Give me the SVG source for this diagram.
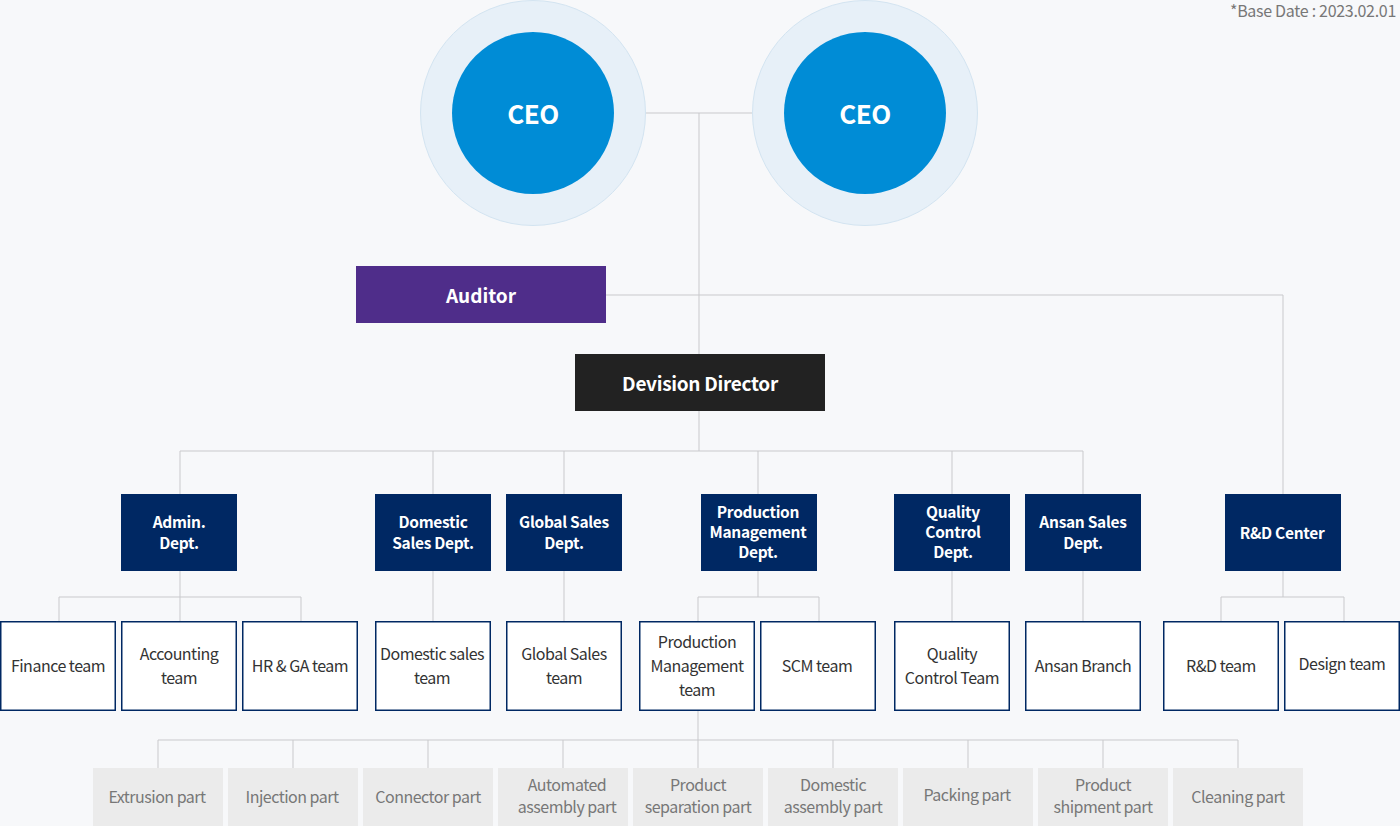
<svg xmlns="http://www.w3.org/2000/svg" width="1400" height="826" viewBox="0 0 1400 826">
<style>
text{font-family:"Noto Sans CJK KR","Noto Sans",sans-serif;text-anchor:middle;dominant-baseline:central}
.ln{stroke:#c9c9cc;stroke-width:1;fill:none}
.dept rect{fill:#002863}
.dept text{fill:#fff;font-size:15.5px;font-weight:bold;letter-spacing:-0.3px}
.team rect{fill:#fff;stroke:#002863;stroke-width:1.5}
.team text{fill:#333;font-size:16px;letter-spacing:-0.5px}
.part rect{fill:#ebebeb}
.part text{fill:#777;font-size:16px;letter-spacing:-0.5px}
.ceo text{fill:#fff;font-size:26px;font-weight:bold;letter-spacing:-0.5px}
</style>
<rect width="1400" height="826" fill="#f7f8fa"/>
<text x="1396" y="10" style="text-anchor:end;font-size:16px;fill:#777;letter-spacing:-0.3px">*Base Date : 2023.02.01</text>
<g id="connectors" class="ln">
<path d="M646 113H752M699 113V354"/>
<path d="M606 295H1283V494"/>
<path d="M699 411V451M180 451H1083M180 451V494M433 451V494M564 451V494M758 451V494M952 451V494M1083 451V494"/>
<path d="M180 571V597M59 597H301M59 597V621M180 597V621M301 597V621"/>
<path d="M433 571V621M564 571V621M952 571V621M1083 571V621"/>
<path d="M758 571V597M698 597H819M698 597V621M819 597V621"/>
<path d="M1283 571V597M1221 597H1344M1221 597V621M1344 597V621"/>
<path d="M698 710V740M158 740H1238M158 740V768M293 740V768M428 740V768M563 740V768M698 740V768M833 740V768M968 740V768M1103 740V768M1238 740V768"/>
</g>
<g id="ceo1" class="ceo"><circle cx="533" cy="113" r="112.5" fill="#e7f0f8" stroke="#d3e4f1"/><circle cx="533" cy="113" r="81" fill="#008cd6"/><text x="533" y="112">CEO</text></g>
<g id="ceo2" class="ceo"><circle cx="865" cy="113" r="112.5" fill="#e7f0f8" stroke="#d3e4f1"/><circle cx="865" cy="113" r="81" fill="#008cd6"/><text x="865" y="112">CEO</text></g>
<g id="auditor"><rect x="356" y="266" width="250" height="57" fill="#4f2d8a"/><text x="481" y="294" style="fill:#fff;font-size:19px;font-weight:bold">Auditor</text></g>
<g id="director"><rect x="575" y="354" width="250" height="57" fill="#222"/><text x="700" y="382" style="fill:#fff;font-size:19px;font-weight:bold;letter-spacing:-0.3px">Devision Director</text></g>
<g id="admin" class="dept"><rect x="121" y="494" width="116" height="77"/><text x="179" y="521">Admin.</text><text x="179" y="542">Dept.</text></g>
<g id="domestic" class="dept"><rect x="375" y="494" width="116" height="77"/><text x="433" y="521">Domestic</text><text x="433" y="542">Sales Dept.</text></g>
<g id="global" class="dept"><rect x="506" y="494" width="116" height="77"/><text x="564" y="521">Global Sales</text><text x="564" y="542">Dept.</text></g>
<g id="production" class="dept"><rect x="701" y="494" width="116" height="77"/><text x="758" y="511">Production</text><text x="758" y="531">Management</text><text x="758" y="551">Dept.</text></g>
<g id="quality" class="dept"><rect x="894" y="494" width="116" height="77"/><text x="953" y="511">Quality</text><text x="953" y="531">Control</text><text x="953" y="551">Dept.</text></g>
<g id="ansan" class="dept"><rect x="1025" y="494" width="116" height="77"/><text x="1083" y="521">Ansan Sales</text><text x="1083" y="542">Dept.</text></g>
<g id="rnd" class="dept"><rect x="1225" y="494" width="116" height="77"/><text x="1282" y="532">R&amp;D Center</text></g>
<g id="finance" class="team"><rect x="0.75" y="621.75" width="114.5" height="88.5"/><text x="58" y="665">Finance team</text></g>
<g id="accounting" class="team"><rect x="121.75" y="621.75" width="114.5" height="88.5"/><text x="179" y="653">Accounting</text><text x="179" y="677">team</text></g>
<g id="hrga" class="team"><rect x="242.75" y="621.75" width="114.5" height="88.5"/><text x="300" y="665">HR &amp; GA team</text></g>
<g id="domsales" class="team"><rect x="375.75" y="621.75" width="114.5" height="88.5"/><text x="432" y="653">Domestic sales</text><text x="432" y="677">team</text></g>
<g id="globalsales" class="team"><rect x="506.75" y="621.75" width="114.5" height="88.5"/><text x="564" y="653">Global Sales</text><text x="564" y="677">team</text></g>
<g id="prodmgmt" class="team"><rect x="639.75" y="621.75" width="114.5" height="88.5"/><text x="697" y="641">Production</text><text x="697" y="665">Management</text><text x="697" y="689">team</text></g>
<g id="scm" class="team"><rect x="760.75" y="621.75" width="114.5" height="88.5"/><text x="817" y="665">SCM team</text></g>
<g id="qcteam" class="team"><rect x="894.75" y="621.75" width="114.5" height="88.5"/><text x="952" y="653">Quality</text><text x="952" y="677">Control Team</text></g>
<g id="ansanbranch" class="team"><rect x="1025.75" y="621.75" width="114.5" height="88.5"/><text x="1083" y="665">Ansan Branch</text></g>
<g id="rndteam" class="team"><rect x="1163.75" y="621.75" width="114.5" height="88.5"/><text x="1221" y="665">R&amp;D team</text></g>
<g id="design" class="team"><rect x="1284.75" y="621.75" width="114.5" height="88.5"/><text x="1342" y="663">Design team</text></g>
<g id="extrusion" class="part"><rect x="93" y="768" width="130" height="60"/><text x="157" y="796">Extrusion part</text></g>
<g id="injection" class="part"><rect x="228" y="768" width="130" height="60"/><text x="292" y="796">Injection part</text></g>
<g id="connector" class="part"><rect x="363" y="768" width="130" height="60"/><text x="428" y="796">Connector part</text></g>
<g id="automated" class="part"><rect x="498" y="768" width="130" height="60"/><text x="567" y="784">Automated</text><text x="567" y="806">assembly part</text></g>
<g id="separation" class="part"><rect x="633" y="768" width="130" height="60"/><text x="698" y="784">Product</text><text x="698" y="806">separation part</text></g>
<g id="domasm" class="part"><rect x="768" y="768" width="130" height="60"/><text x="833" y="784">Domestic</text><text x="833" y="806">assembly part</text></g>
<g id="packing" class="part"><rect x="903" y="768" width="130" height="60"/><text x="967" y="794">Packing part</text></g>
<g id="shipment" class="part"><rect x="1038" y="768" width="130" height="60"/><text x="1103" y="784">Product</text><text x="1103" y="806">shipment part</text></g>
<g id="cleaning" class="part"><rect x="1173" y="768" width="130" height="60"/><text x="1238" y="796">Cleaning part</text></g>
</svg>
